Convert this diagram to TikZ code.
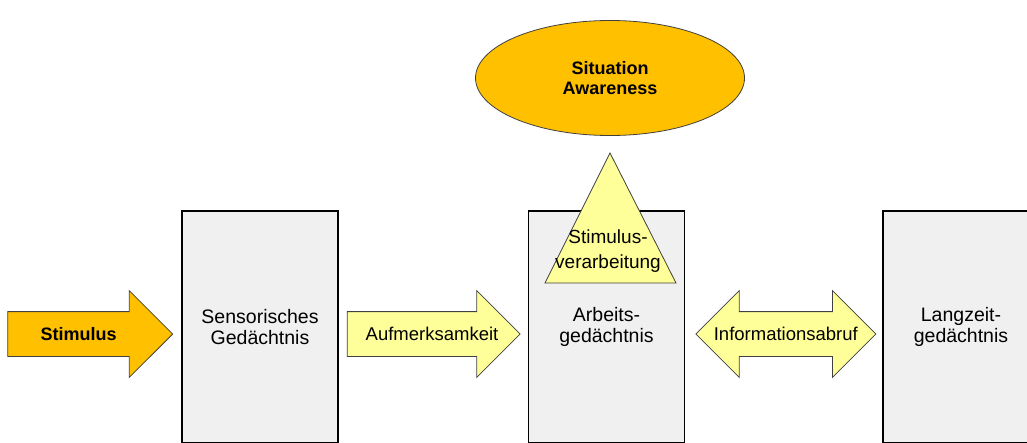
\documentclass[tikz,border=0pt]{standalone}
\usepackage{fontspec}
\setmainfont{Liberation Sans}
\usetikzlibrary{shapes,arrows,positioning,calc}

\definecolor{saorange}{HTML}{FFC000}
\definecolor{sayellow}{HTML}{FFFF99}
\definecolor{memgray}{HTML}{F0F0F0}

\begin{document}
\begin{tikzpicture}[x=1pt, y=-1pt,
    mem/.style={rectangle, draw, line width=1.5pt, minimum width=156pt, minimum height=232pt, inner sep=0pt, align=center, fill=memgray, font=\fontsize{19.5}{21}\selectfont},
    flow/.style={single arrow, draw=black!75, line width=0.8pt, single arrow head extend=21pt, minimum width=86pt, inner sep=0pt, text height=22pt, text depth=22pt, fill=sayellow},
    both/.style={double arrow, draw=black!75, line width=0.8pt, double arrow head extend=21pt, minimum width=86pt, inner sep=0pt, text height=22pt, text depth=22pt, fill=sayellow},
    lbl/.style={inner sep=0pt, align=center, font=\fontsize{18.5}{21}\selectfont}]
    \useasboundingbox (0,0) rectangle (1027,442);

    % memories
    \node[mem] (sens) at (260,327) {Sensorisches\\Gedächtnis};
    \node[mem, right=189pt of sens] (arb) {Arbeits-\\gedächtnis};
    \node[mem, right=197pt of arb] (lang) {Langzeit-\\gedächtnis};

    % big arrows
    \node[flow, fill=saorange, minimum height=165pt, left=8pt of sens, yshift=-7pt] (stim) {};
    \node[flow, minimum height=173pt, right=8pt of sens, yshift=-7pt] (aufm) {};
    \node[both, minimum height=180pt, right=10pt of arb, yshift=-7pt] (info) {};
    \node[lbl, font=\fontsize{18}{21}\selectfont\bfseries] at ($(stim.tail)!0.43!(stim.tip)$) {Stimulus};
    \node[lbl] at ($(aufm.tail)!0.49!(aufm.tip)$) {Aufmerksamkeit};
    \node[lbl] at (info.center) {Informationsabruf};

    % processing triangle
    \coordinate (apex) at (610,153);
    \coordinate (baseL) at (545,283);
    \coordinate (baseR) at (676,283);
    \draw[draw=black!75, line width=0.8pt, fill=sayellow] (baseL) -- (apex) -- (baseR) -- cycle;
    \node[lbl, font=\fontsize{19}{25}\selectfont] (proc) at (608,251) {Stimulus-\\verarbeitung};

    % situation awareness
    \node[ellipse, draw=black!75, line width=0.8pt, fill=saorange, minimum width=269pt, minimum height=115pt, inner sep=0pt, align=center, font=\fontsize{18}{20}\selectfont\bfseries] (sa) at (610,78) {Situation\\Awareness};

\end{tikzpicture}
\end{document}
